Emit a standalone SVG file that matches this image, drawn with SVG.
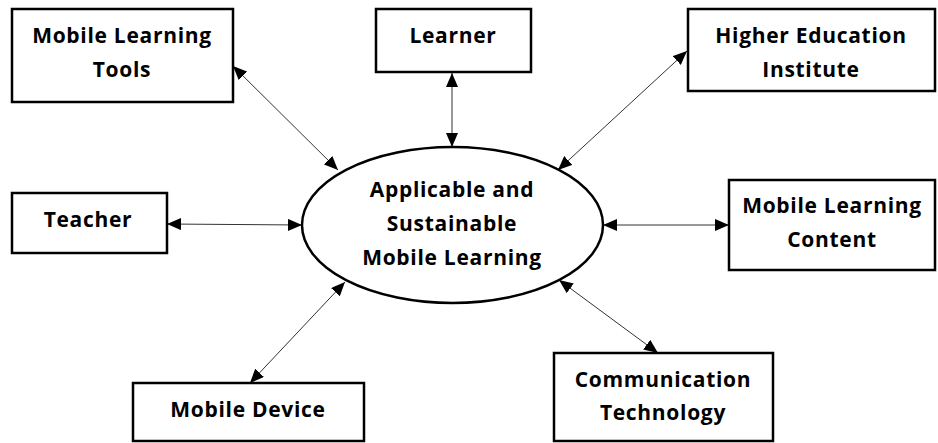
<svg xmlns="http://www.w3.org/2000/svg" width="938" height="443" viewBox="0 0 938 443">
<style>
.box{fill:#fff;stroke:#000;stroke-width:2.5}
.ell{fill:#fff;stroke:#000;stroke-width:2.5}
.t{font-family:"Open Sans","Noto Sans",sans-serif;font-weight:bold;font-size:21px;letter-spacing:0.7px;fill:#000;text-anchor:middle}
.c{stroke:#333;stroke-width:1;fill:none;marker-start:url(#ah);marker-end:url(#ah)}
</style>
<defs>
<marker id="ah" viewBox="0 0 14 12" refX="14" refY="6" markerWidth="14" markerHeight="12" markerUnits="userSpaceOnUse" orient="auto-start-reverse">
<path d="M0,0 L14,6 L0,12 z" fill="#000"/>
</marker>
</defs>
<rect width="938" height="443" fill="#fff"/>
<g id="connectors">
<line class="c" x1="233" y1="66" x2="338" y2="170"/>
<line class="c" x1="452" y1="73" x2="452" y2="147"/>
<line class="c" x1="687" y1="51" x2="558" y2="170"/>
<line class="c" x1="167" y1="224" x2="302" y2="225"/>
<line class="c" x1="603" y1="225" x2="729" y2="225"/>
<line class="c" x1="250" y1="383" x2="345" y2="282"/>
<line class="c" x1="559" y1="280" x2="658" y2="353"/>
</g>
<g id="center">
<ellipse class="ell" cx="452.5" cy="225" rx="150.5" ry="78"/>
<text class="t" x="452" y="197">Applicable and</text>
<text class="t" x="452" y="231">Sustainable</text>
<text class="t" x="452" y="265">Mobile Learning</text>
</g>
<g id="tools">
<rect class="box" x="12" y="9" width="221" height="93"/>
<text class="t" x="122" y="43">Mobile Learning</text>
<text class="t" x="122" y="77">Tools</text>
</g>
<g id="learner">
<rect class="box" x="376" y="9" width="155" height="63"/>
<text class="t" x="453" y="43">Learner</text>
</g>
<g id="hei">
<rect class="box" x="688" y="9" width="247" height="82"/>
<text class="t" x="811" y="43">Higher Education</text>
<text class="t" x="811" y="77">Institute</text>
</g>
<g id="teacher">
<rect class="box" x="12" y="193" width="155" height="60"/>
<text class="t" x="88" y="227">Teacher</text>
</g>
<g id="content">
<rect class="box" x="729" y="180" width="206" height="90"/>
<text class="t" x="832" y="213">Mobile Learning</text>
<text class="t" x="832" y="247">Content</text>
</g>
<g id="device">
<rect class="box" x="133" y="383" width="231" height="58"/>
<text class="t" x="248" y="417">Mobile Device</text>
</g>
<g id="comm">
<rect class="box" x="554" y="353" width="219" height="88"/>
<text class="t" x="663" y="387">Communication</text>
<text class="t" x="663" y="420">Technology</text>
</g>
</svg>
